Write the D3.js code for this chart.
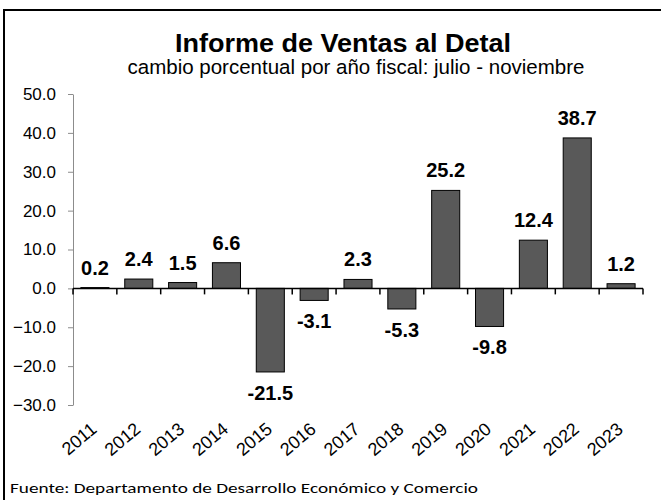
<!DOCTYPE html>
<html>
<head>
<meta charset="utf-8">
<script src="https://cdn.jsdelivr.net/npm/d3@7"></script>
<style>
  body { margin: 0; background: #fff; }
  svg { display: block; }
</style>
</head>
<body>
<div id="chart"></div>
<script>
const years = ["2011","2012","2013","2014","2015","2016","2017","2018","2019","2020","2021","2022","2023"];
const change = [0.2, 2.4, 1.5, 6.6, -21.5, -3.1, 2.3, -5.3, 25.2, -9.8, 12.4, 38.7, 1.2];
const yTicks = [-30, -20, -10, 0, 10, 20, 30, 40, 50];

const W = 661, H = 500;
const plot = {left: 73, right: 643, top: 94, bottom: 405};

const svg = d3.select("#chart").append("svg")
  .attr("width", W).attr("height", H);

// frame
svg.append("rect")
  .attr("x", 4).attr("y", 10).attr("width", W).attr("height", H)
  .attr("fill", "none").attr("stroke", "#000").attr("stroke-width", 2);

const x = d3.scaleBand().domain(years).range([plot.left, plot.right]).paddingInner(0.36).paddingOuter(0.18);
const y = d3.scaleLinear().domain([-30, 50]).range([plot.bottom, plot.top]);

// title
svg.append("text")
  .attr("x", 343).attr("y", 52)
  .attr("text-anchor", "middle")
  .attr("textLength", 336).attr("lengthAdjust", "spacingAndGlyphs")
  .style("font", "bold 25px 'Liberation Sans', Arial, sans-serif")
  .text("Informe de Ventas al Detal");
svg.append("text")
  .attr("x", 356).attr("y", 74)
  .attr("text-anchor", "middle")
  .style("font", "20.5px 'Liberation Sans', Arial, sans-serif")
  .text("cambio porcentual por año fiscal: julio - noviembre");

// y axis
const yAxis = svg.append("g")
  .attr("transform", `translate(${plot.left},0)`)
  .call(d3.axisLeft(y).tickValues(yTicks).tickSize(5).tickSizeOuter(0).tickFormat(d3.format(".1f")));
yAxis.select(".domain").attr("stroke", "#8c8c8c");
yAxis.selectAll(".tick line").attr("stroke", "#8c8c8c");
yAxis.selectAll(".tick text")
  .attr("x", -17)
  .attr("fill", "#000")
  .style("font", "17px 'Liberation Sans', Arial, sans-serif");

// bars
svg.append("g").selectAll("rect")
  .data(years)
  .join("rect")
  .attr("x", d => x(d))
  .attr("width", x.bandwidth())
  .attr("y", (d, i) => y(Math.max(0, change[i])))
  .attr("height", (d, i) => Math.abs(y(change[i]) - y(0)))
  .attr("fill", "#595959")
  .attr("stroke", "#000")
  .attr("stroke-width", 1);

// zero line with category ticks
const step = x.step();
const bounds = d3.range(years.length + 1).map(i => plot.left + i * step);
svg.append("line")
  .attr("x1", plot.left).attr("x2", plot.right)
  .attr("y1", y(0)).attr("y2", y(0))
  .attr("stroke", "#000").attr("stroke-width", 1.5);
svg.append("g").selectAll("line")
  .data(bounds)
  .join("line")
  .attr("x1", d => d).attr("x2", d => d)
  .attr("y1", y(0)).attr("y2", y(0) + 6)
  .attr("stroke", "#000").attr("stroke-width", 1.5);

// value labels
svg.append("g").selectAll("text")
  .data(years)
  .join("text")
  .attr("x", d => x(d) + x.bandwidth() / 2)
  .attr("y", (d, i) => change[i] >= 0 ? y(change[i]) - 13 : y(change[i]) + 28)
  .attr("text-anchor", "middle")
  .style("font", "bold 20px 'Liberation Sans', Arial, sans-serif")
  .text((d, i) => change[i].toFixed(1));

// rotated year labels
svg.append("g").selectAll("text")
  .data(years)
  .join("text")
  .attr("transform", d => `translate(${x(d) + x.bandwidth() / 2 + 3},${431}) rotate(-40)`)
  .attr("text-anchor", "end")
  .style("font", "18px 'Liberation Sans', Arial, sans-serif")
  .text(d => d);

// source
svg.append("text")
  .attr("x", 10).attr("y", 493)
  .attr("textLength", 468).attr("lengthAdjust", "spacingAndGlyphs")
  .style("font", "15px Carlito, Lato, 'Open Sans', sans-serif")
  .text("Fuente: Departamento de Desarrollo Económico y Comercio");
</script>
</body>
</html>
